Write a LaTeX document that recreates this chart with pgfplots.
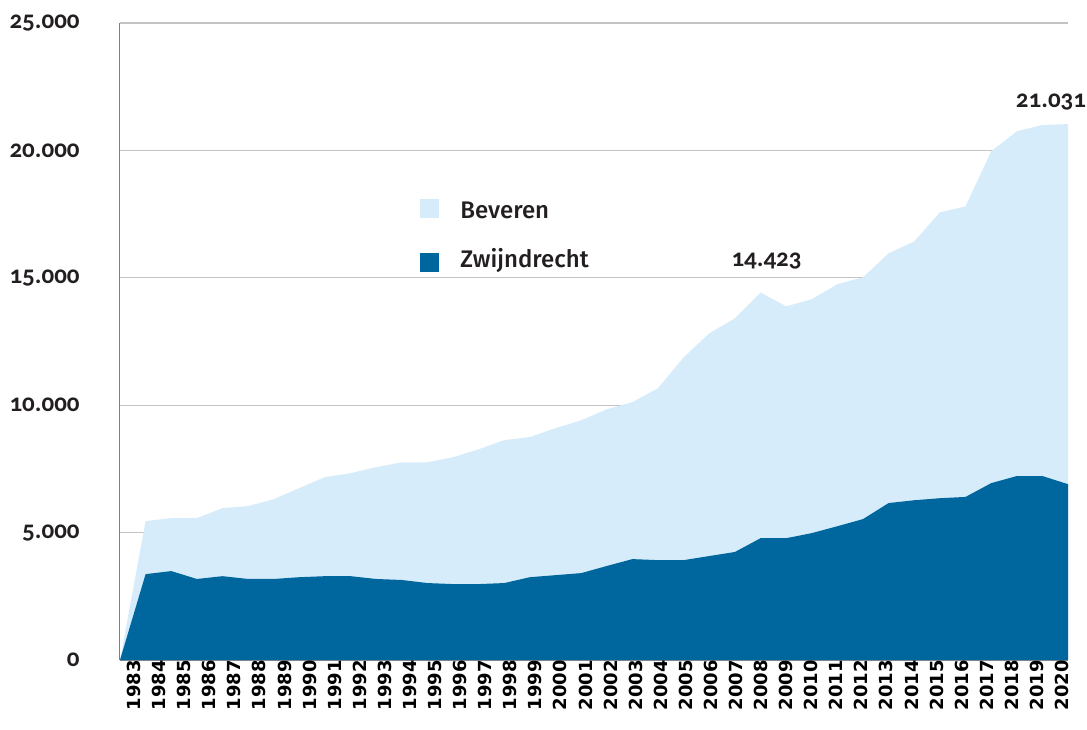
\documentclass[border=0pt]{standalone}
\usepackage{fontspec}
\setmainfont{Fira Sans}
\newfontfamily\oldnum{Carlito}[Numbers=OldStyle]
\newfontfamily\yearfont{DejaVu Sans}
\newfontfamily\legfont{Fira Sans Medium}
\usepackage{pgfplots}
\usepackage{pgfplotstable}
\pgfplotsset{compat=1.18}

\definecolor{darkblue}{RGB}{0,103,158}
\definecolor{lightblue}{RGB}{214,236,250}
\definecolor{axisgray}{RGB}{128,128,128}
\definecolor{gridgray}{RGB}{195,195,195}
\definecolor{textdark}{RGB}{35,31,32}

% total = Beveren + Zwijndrecht
\pgfplotstableread{
year total zwijndrecht
1983 0     0
1984 5450  3370
1985 5570  3490
1986 5570  3180
1987 5960  3290
1988 6040  3180
1989 6310  3180
1990 6750  3250
1991 7180  3290
1992 7330  3290
1993 7570  3180
1994 7760  3140
1995 7760  3020
1996 7960  2980
1997 8270  2980
1998 8630  3020
1999 8750  3250
2000 9100  3330
2001 9410  3410
2002 9840  3690
2003 10120 3960
2004 10670 3920
2005 11880 3920
2006 12820 4080
2007 13410 4240
2008 14423 4780
2009 13880 4780
2010 14160 4980
2011 14750 5250
2012 15020 5530
2013 15960 6160
2014 16430 6270
2015 17570 6350
2016 17800 6400
2017 19960 6940
2018 20750 7220
2019 21000 7220
2020 21031 6900
}\datatable

\begin{document}
\begin{tikzpicture}
\begin{axis}[
  at={(0,0)}, anchor=south west,
  scale only axis, width=474pt, height=318.5pt,
  xmin=1983, xmax=2020, ymin=0, ymax=25000,
  axis x line*=bottom, axis y line*=left,
  x axis line style={draw=axisgray, line width=1pt},
  y axis line style={draw=axisgray, line width=0.5pt},
  ytick={0,5000,...,25000},
  % year labels sit a little tighter than the data points
  xtick={1983.078,1984.05685,...,2019.35},
  xticklabels={1983,1984,1985,1986,1987,1988,1989,1990,1991,1992,1993,1994,
    1995,1996,1997,1998,1999,2000,2001,2002,2003,2004,2005,2006,2007,2008,
    2009,2010,2011,2012,2013,2014,2015,2016,2017,2018,2019,2020},
  ymajorgrids, grid style={draw=gridgray, line width=0.6pt},
  major tick length=0pt,
  scaled y ticks=false,
  /pgf/number format/assume math mode=true,
  yticklabel style={font=\oldnum\bfseries\fontsize{12.5}{14}\selectfont,
    /pgf/number format/1000 sep={.}, anchor=east, inner sep=0pt,
    xshift=-20pt, text=textdark},
  xticklabel style={font=\yearfont\bfseries\fontsize{9}{10}\selectfont,
    rotate=90, anchor=east, inner sep=0pt, yshift=-6pt, text=black},
  clip=false,
]
\addplot[fill=lightblue, draw=none] table[x=year, y=total] {\datatable} \closedcycle;
\addplot[fill=darkblue, draw=none] table[x=year, y=zwijndrecht] {\datatable} \closedcycle;

\node[font=\oldnum\bfseries\fontsize{12.5}{14}\selectfont, anchor=base, inner sep=0pt,
  text=textdark, xshift=3pt, yshift=13pt] at (axis cs:2008,14423) {14.423};
\node[font=\oldnum\bfseries\fontsize{12.5}{14}\selectfont, anchor=base, inner sep=0pt,
  text=textdark, xshift=-8.5pt, yshift=8.5pt] at (axis cs:2020,21031) {21.031};
\end{axis}

% legend
\fill[lightblue] (150pt,221pt) rectangle (159.5pt,230.5pt);
\fill[darkblue] (150pt,194pt) rectangle (159.5pt,203.5pt);
\node[anchor=base west, inner sep=0pt, font=\legfont\fontsize{12}{14}\selectfont,
  text=textdark] at (170pt,220.5pt) {Beveren};
\node[anchor=base west, inner sep=0pt, font=\legfont\fontsize{12}{14}\selectfont,
  text=textdark] at (170pt,196pt) {Zwijndrecht};

\pgfresetboundingbox
\useasboundingbox (-60pt,-34.5pt) rectangle (483.5pt,330pt);
\end{tikzpicture}
\end{document}
